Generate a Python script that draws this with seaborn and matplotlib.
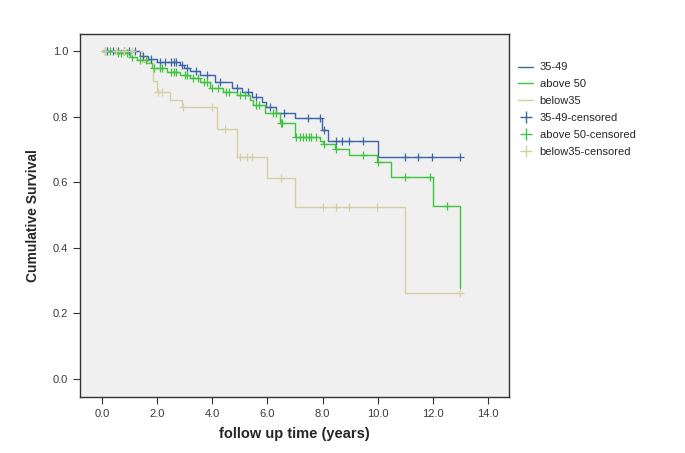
import matplotlib
matplotlib.use("Agg")
import matplotlib.pyplot as plt
from matplotlib.lines import Line2D
import seaborn as sns
import numpy as np
import pandas as pd

# groupes
groups = ["35-49", "above 50", "below35"]
colors = {"35-49": "#3d66a8", "above 50": "#3ec43e", "below35": "#d6cfa4"}

# temps des événements et survie après chaque événement
t_3549 = [1.39, 1.68, 2.0, 2.83, 2.98, 3.2, 3.56, 4.1, 4.72, 5.08, 5.45, 5.81,
          5.95, 6.3, 7.0, 7.98, 8.2, 10.0]
s_3549 = [0.985, 0.976, 0.967, 0.957, 0.948, 0.938, 0.927, 0.906, 0.887, 0.876,
          0.861, 0.845, 0.83, 0.812, 0.795, 0.759, 0.725, 0.676]
c_3549 = [0.2, 0.4, 0.6, 0.8, 1.0, 1.2, 1.5, 1.8, 2.1, 2.3, 2.5, 2.6, 2.7, 2.9,
          3.1, 3.4, 3.8, 4.3, 4.9, 5.3, 5.6, 6.1, 6.6, 7.47, 7.9, 8.05, 8.49,
          8.71, 8.96, 9.47, 10.99, 11.46, 11.97, 13.0]

t_50 = [0.5, 1.03, 1.28, 1.64, 1.82, 2.37, 2.83, 3.2, 3.56, 3.92, 4.39, 4.9,
        5.37, 5.48, 5.92, 6.46, 7.0, 7.9, 8.0, 8.45, 8.96, 9.97, 10.48, 12.0, 13.0]
s_50 = [0.995, 0.983, 0.973, 0.963, 0.948, 0.937, 0.927, 0.918, 0.906, 0.887,
        0.876, 0.866, 0.851, 0.835, 0.811, 0.78, 0.739, 0.725, 0.716, 0.70,
        0.683, 0.662, 0.615, 0.527, 0.277]
c_50 = [0.1, 0.3, 0.6, 0.7, 0.9, 1.1, 1.4, 1.6, 1.9, 2.1, 2.2, 2.5, 2.6, 2.7,
        3.0, 3.1, 3.3, 3.5, 3.7, 3.8, 4.0, 4.2, 4.5, 4.6, 5.0, 5.2, 5.6, 5.7,
        6.2, 6.3, 6.5, 6.55, 7.05, 7.2, 7.3, 7.4, 7.5, 7.6, 7.75, 8.05, 8.5,
        9.47, 10.0, 10.99, 11.9, 12.5]

t_35 = [1.46, 1.85, 2.0, 2.46, 2.91, 4.18, 4.9, 6.0, 7.0, 11.0]
s_35 = [0.967, 0.91, 0.876, 0.85, 0.83, 0.762, 0.677, 0.613, 0.524, 0.262]
c_35 = [0.1, 0.5, 0.8, 1.1, 2.04, 2.18, 2.95, 4.0, 4.48, 5.0, 5.27, 5.45, 6.5,
        8.0, 8.5, 8.96, 9.97, 13.0]

events = {"35-49": (t_3549, s_3549), "above 50": (t_50, s_50), "below35": (t_35, s_35)}
censored = {"35-49": c_3549, "above 50": c_50, "below35": c_35}
t_end = 13.0

# tables pour seaborn
step_rows = []
cens_rows = []
for g in groups:
    t, s = events[g]
    tt = [0.0] + list(t)
    ss = [1.0] + list(s)
    if tt[-1] < t_end:
        tt.append(t_end)
        ss.append(ss[-1])
    for a, b in zip(tt, ss):
        step_rows.append({"time": a, "surv": b, "group": g})
    for c in censored[g]:
        idx = np.searchsorted(np.array([0.0] + list(t)), c, side="right") - 1
        cens_rows.append({"time": c, "surv": ss[idx], "group": g + "-censored"})
steps = pd.DataFrame(step_rows)
cens = pd.DataFrame(cens_rows)

sns.set_style("white", {"axes.facecolor": "#f0f0f0"})
plt.rcParams["font.family"] = ["Liberation Sans", "DejaVu Sans"]

fig = plt.figure(figsize=(6.85, 4.53), dpi=100)
ax = fig.add_axes([80 / 685, 1 - 397 / 453, 429 / 685, 363 / 453])

sns.lineplot(data=steps, x="time", y="surv", hue="group", palette=colors,
             drawstyle="steps-post", estimator=None, sort=False,
             linewidth=1.0, legend=False, ax=ax)
cens_pal = {g + "-censored": colors[g] for g in groups}
sns.scatterplot(data=cens, x="time", y="surv", hue="group", palette=cens_pal,
                marker="+", s=32, linewidth=0.9, legend=False, ax=ax, zorder=3)

ax.set_xlim(-0.79, 14.76)
ax.set_ylim(-0.055, 1.052)
ax.set_xticks(np.arange(0, 15, 2))
ax.set_xticklabels([f"{v:.1f}" for v in np.arange(0, 15, 2)])
ax.set_yticks(np.arange(0, 1.01, 0.2))
ax.set_yticklabels([f"{v:.1f}" for v in np.arange(0, 1.01, 0.2)])
ax.tick_params(axis="both", direction="out", length=5, width=0.8,
               color="#333333", labelsize=8, labelcolor="#3a3a3a", bottom=True, left=True)
for sp in ax.spines.values():
    sp.set_color("#333333")
    sp.set_linewidth(1.0)

ax.set_xlabel("follow up time (years)", fontsize=10.5, fontweight="bold", labelpad=6)
ax.set_ylabel("Cumulative Survival", fontsize=10, fontweight="bold", labelpad=9)

handles = []
labels = []
for g in groups:
    handles.append(Line2D([], [], color=colors[g], linewidth=1.0))
    labels.append(g)
for g in groups:
    handles.append(Line2D([], [], color=colors[g], marker="+", linestyle="none",
                          markersize=8, markeredgewidth=1.0))
    labels.append(g + "-censored")
fig.legend(handles, labels, loc="upper left", bbox_to_anchor=(514 / 685, 1 - 58 / 453),
           frameon=False, fontsize=8, handlelength=1.3, handletextpad=0.6,
           labelspacing=0.62, borderaxespad=0)

fig.savefig("out.png", dpi=100)
